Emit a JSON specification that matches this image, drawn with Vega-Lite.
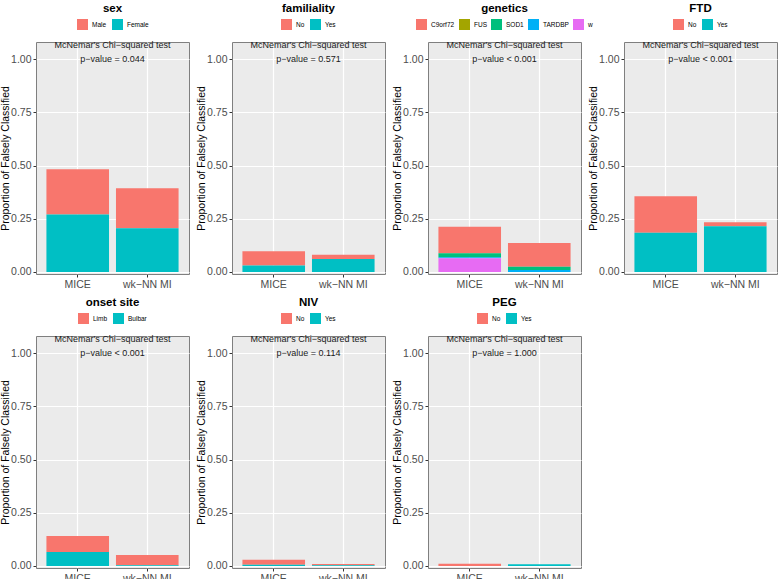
{
  "$schema": "https://vega.github.io/schema/vega-lite/v6.json",
  "padding": {"left": 0, "top": 2, "right": 0, "bottom": 0},
  "background": "white",
  "datasets": {
    "bars": [
      {"var": "sex", "method": "MICE", "cat": "Male", "lvl": 1, "prop": 0.212},
      {"var": "sex", "method": "MICE", "cat": "Female", "lvl": 2, "prop": 0.270},
      {"var": "sex", "method": "wk−NN MI", "cat": "Male", "lvl": 1, "prop": 0.187},
      {"var": "sex", "method": "wk−NN MI", "cat": "Female", "lvl": 2, "prop": 0.206},
      {"var": "familiality", "method": "MICE", "cat": "No", "lvl": 1, "prop": 0.067},
      {"var": "familiality", "method": "MICE", "cat": "Yes", "lvl": 2, "prop": 0.030},
      {"var": "familiality", "method": "wk−NN MI", "cat": "No", "lvl": 1, "prop": 0.020},
      {"var": "familiality", "method": "wk−NN MI", "cat": "Yes", "lvl": 2, "prop": 0.061},
      {"var": "genetics", "method": "MICE", "cat": "C9orf72", "lvl": 1, "prop": 0.124},
      {"var": "genetics", "method": "MICE", "cat": "SOD1", "lvl": 3, "prop": 0.019},
      {"var": "genetics", "method": "MICE", "cat": "TARDBP", "lvl": 4, "prop": 0.005},
      {"var": "genetics", "method": "MICE", "cat": "w", "lvl": 5, "prop": 0.064},
      {"var": "genetics", "method": "wk−NN MI", "cat": "C9orf72", "lvl": 1, "prop": 0.111},
      {"var": "genetics", "method": "wk−NN MI", "cat": "SOD1", "lvl": 3, "prop": 0.016},
      {"var": "genetics", "method": "wk−NN MI", "cat": "TARDBP", "lvl": 4, "prop": 0.009},
      {"var": "FTD", "method": "MICE", "cat": "No", "lvl": 1, "prop": 0.172},
      {"var": "FTD", "method": "MICE", "cat": "Yes", "lvl": 2, "prop": 0.184},
      {"var": "FTD", "method": "wk−NN MI", "cat": "No", "lvl": 1, "prop": 0.019},
      {"var": "FTD", "method": "wk−NN MI", "cat": "Yes", "lvl": 2, "prop": 0.215},
      {"var": "onset site", "method": "MICE", "cat": "Limb", "lvl": 1, "prop": 0.075},
      {"var": "onset site", "method": "MICE", "cat": "Bulbar", "lvl": 2, "prop": 0.066},
      {"var": "onset site", "method": "wk−NN MI", "cat": "Limb", "lvl": 1, "prop": 0.048},
      {"var": "onset site", "method": "wk−NN MI", "cat": "Bulbar", "lvl": 2, "prop": 0.004},
      {"var": "NIV", "method": "MICE", "cat": "No", "lvl": 1, "prop": 0.023},
      {"var": "NIV", "method": "MICE", "cat": "Yes", "lvl": 2, "prop": 0.006},
      {"var": "NIV", "method": "wk−NN MI", "cat": "No", "lvl": 1, "prop": 0.005},
      {"var": "NIV", "method": "wk−NN MI", "cat": "Yes", "lvl": 2, "prop": 0.004},
      {"var": "PEG", "method": "MICE", "cat": "No", "lvl": 1, "prop": 0.011},
      {"var": "PEG", "method": "wk−NN MI", "cat": "Yes", "lvl": 2, "prop": 0.008}
    ],
    "notes": [
      {"var": "sex", "test": "McNemar's Chi−squared test", "p": "p−value = 0.044"},
      {"var": "familiality", "test": "McNemar's Chi−squared test", "p": "p−value = 0.571"},
      {"var": "genetics", "test": "McNemar's Chi−squared test", "p": "p−value < 0.001"},
      {"var": "FTD", "test": "McNemar's Chi−squared test", "p": "p−value < 0.001"},
      {"var": "onset site", "test": "McNemar's Chi−squared test", "p": "p−value < 0.001"},
      {"var": "NIV", "test": "McNemar's Chi−squared test", "p": "p−value = 0.114"},
      {"var": "PEG", "test": "McNemar's Chi−squared test", "p": "p−value = 1.000"}
    ]
  },
  "columns": 4,
  "bounds": "flush",
  "spacing": {"row": 62, "column": 43},
  "resolve": {"scale": {"color": "independent", "y": "independent", "x": "independent"}, "legend": {"color": "independent"}},
  "concat": [
    {
      "title": "sex", "width": 153, "height": 232,
      "layer": [
        {"data": {"name": "bars"}, "transform": [{"filter": "datum.var === 'sex'"}], "mark": {"type": "bar"},
         "encoding": {
           "x": {"field": "method", "type": "nominal", "title": null, "scale": {"domain": ["MICE", "wk−NN MI"], "paddingInner": 0.1, "paddingOuter": 0.15}},
           "y": {"field": "prop", "type": "quantitative", "stack": "zero", "title": "Proportion of Falsely Classified", "scale": {"domain": [-0.0094, 1.08], "nice": false, "zero": false},
                 "axis": {"values": [0, 0.125, 0.25, 0.375, 0.5, 0.625, 0.75, 0.875, 1], "labelExpr": "datum.value * 4 % 1 === 0 ? format(datum.value, '.2f') : ''", "gridWidth": {"condition": {"test": "datum.value * 4 % 1 === 0", "value": 1.2}, "value": 0.6}, "tickOpacity": {"condition": {"test": "datum.value * 4 % 1 === 0", "value": 1}, "value": 0}}},
           "color": {"field": "cat", "type": "nominal", "scale": {"domain": ["Male", "Female"], "range": ["#F8766D", "#00BFC4"]}, "legend": {"title": null}},
           "order": {"field": "lvl", "type": "quantitative", "sort": "descending"}
         }},
        {"data": {"name": "notes"}, "transform": [{"filter": "datum.var === 'sex'"}], "mark": {"type": "text"}, "encoding": {"y": {"datum": 1.066}, "text": {"field": "test"}}},
        {"data": {"name": "notes"}, "transform": [{"filter": "datum.var === 'sex'"}], "mark": {"type": "text"}, "encoding": {"y": {"datum": 1.0}, "text": {"field": "p"}}}
      ]
    },
    {
      "title": "familiality", "width": 153, "height": 232,
      "layer": [
        {"data": {"name": "bars"}, "transform": [{"filter": "datum.var === 'familiality'"}], "mark": {"type": "bar"},
         "encoding": {
           "x": {"field": "method", "type": "nominal", "title": null, "scale": {"domain": ["MICE", "wk−NN MI"], "paddingInner": 0.1, "paddingOuter": 0.15}},
           "y": {"field": "prop", "type": "quantitative", "stack": "zero", "title": "Proportion of Falsely Classified", "scale": {"domain": [-0.0094, 1.08], "nice": false, "zero": false},
                 "axis": {"values": [0, 0.125, 0.25, 0.375, 0.5, 0.625, 0.75, 0.875, 1], "labelExpr": "datum.value * 4 % 1 === 0 ? format(datum.value, '.2f') : ''", "gridWidth": {"condition": {"test": "datum.value * 4 % 1 === 0", "value": 1.2}, "value": 0.6}, "tickOpacity": {"condition": {"test": "datum.value * 4 % 1 === 0", "value": 1}, "value": 0}}},
           "color": {"field": "cat", "type": "nominal", "scale": {"domain": ["No", "Yes"], "range": ["#F8766D", "#00BFC4"]}, "legend": {"title": null}},
           "order": {"field": "lvl", "type": "quantitative", "sort": "descending"}
         }},
        {"data": {"name": "notes"}, "transform": [{"filter": "datum.var === 'familiality'"}], "mark": {"type": "text"}, "encoding": {"y": {"datum": 1.066}, "text": {"field": "test"}}},
        {"data": {"name": "notes"}, "transform": [{"filter": "datum.var === 'familiality'"}], "mark": {"type": "text"}, "encoding": {"y": {"datum": 1.0}, "text": {"field": "p"}}}
      ]
    },
    {
      "title": "genetics", "width": 153, "height": 232,
      "layer": [
        {"data": {"name": "bars"}, "transform": [{"filter": "datum.var === 'genetics'"}], "mark": {"type": "bar"},
         "encoding": {
           "x": {"field": "method", "type": "nominal", "title": null, "scale": {"domain": ["MICE", "wk−NN MI"], "paddingInner": 0.1, "paddingOuter": 0.15}},
           "y": {"field": "prop", "type": "quantitative", "stack": "zero", "title": "Proportion of Falsely Classified", "scale": {"domain": [-0.0094, 1.08], "nice": false, "zero": false},
                 "axis": {"values": [0, 0.125, 0.25, 0.375, 0.5, 0.625, 0.75, 0.875, 1], "labelExpr": "datum.value * 4 % 1 === 0 ? format(datum.value, '.2f') : ''", "gridWidth": {"condition": {"test": "datum.value * 4 % 1 === 0", "value": 1.2}, "value": 0.6}, "tickOpacity": {"condition": {"test": "datum.value * 4 % 1 === 0", "value": 1}, "value": 0}}},
           "color": {"field": "cat", "type": "nominal", "scale": {"domain": ["C9orf72", "FUS", "SOD1", "TARDBP", "w"], "range": ["#F8766D", "#A3A500", "#00BF7D", "#00B0F6", "#E76BF3"]}, "legend": {"title": null, "columnPadding": 4}},
           "order": {"field": "lvl", "type": "quantitative", "sort": "descending"}
         }},
        {"data": {"name": "notes"}, "transform": [{"filter": "datum.var === 'genetics'"}], "mark": {"type": "text"}, "encoding": {"y": {"datum": 1.066}, "text": {"field": "test"}}},
        {"data": {"name": "notes"}, "transform": [{"filter": "datum.var === 'genetics'"}], "mark": {"type": "text"}, "encoding": {"y": {"datum": 1.0}, "text": {"field": "p"}}}
      ]
    },
    {
      "title": "FTD", "width": 153, "height": 232,
      "layer": [
        {"data": {"name": "bars"}, "transform": [{"filter": "datum.var === 'FTD'"}], "mark": {"type": "bar"},
         "encoding": {
           "x": {"field": "method", "type": "nominal", "title": null, "scale": {"domain": ["MICE", "wk−NN MI"], "paddingInner": 0.1, "paddingOuter": 0.15}},
           "y": {"field": "prop", "type": "quantitative", "stack": "zero", "title": "Proportion of Falsely Classified", "scale": {"domain": [-0.0094, 1.08], "nice": false, "zero": false},
                 "axis": {"values": [0, 0.125, 0.25, 0.375, 0.5, 0.625, 0.75, 0.875, 1], "labelExpr": "datum.value * 4 % 1 === 0 ? format(datum.value, '.2f') : ''", "gridWidth": {"condition": {"test": "datum.value * 4 % 1 === 0", "value": 1.2}, "value": 0.6}, "tickOpacity": {"condition": {"test": "datum.value * 4 % 1 === 0", "value": 1}, "value": 0}}},
           "color": {"field": "cat", "type": "nominal", "scale": {"domain": ["No", "Yes"], "range": ["#F8766D", "#00BFC4"]}, "legend": {"title": null}},
           "order": {"field": "lvl", "type": "quantitative", "sort": "descending"}
         }},
        {"data": {"name": "notes"}, "transform": [{"filter": "datum.var === 'FTD'"}], "mark": {"type": "text"}, "encoding": {"y": {"datum": 1.066}, "text": {"field": "test"}}},
        {"data": {"name": "notes"}, "transform": [{"filter": "datum.var === 'FTD'"}], "mark": {"type": "text"}, "encoding": {"y": {"datum": 1.0}, "text": {"field": "p"}}}
      ]
    },
    {
      "title": "onset site", "width": 153, "height": 232,
      "layer": [
        {"data": {"name": "bars"}, "transform": [{"filter": "datum.var === 'onset site'"}], "mark": {"type": "bar"},
         "encoding": {
           "x": {"field": "method", "type": "nominal", "title": null, "scale": {"domain": ["MICE", "wk−NN MI"], "paddingInner": 0.1, "paddingOuter": 0.15}},
           "y": {"field": "prop", "type": "quantitative", "stack": "zero", "title": "Proportion of Falsely Classified", "scale": {"domain": [-0.0094, 1.08], "nice": false, "zero": false},
                 "axis": {"values": [0, 0.125, 0.25, 0.375, 0.5, 0.625, 0.75, 0.875, 1], "labelExpr": "datum.value * 4 % 1 === 0 ? format(datum.value, '.2f') : ''", "gridWidth": {"condition": {"test": "datum.value * 4 % 1 === 0", "value": 1.2}, "value": 0.6}, "tickOpacity": {"condition": {"test": "datum.value * 4 % 1 === 0", "value": 1}, "value": 0}}},
           "color": {"field": "cat", "type": "nominal", "scale": {"domain": ["Limb", "Bulbar"], "range": ["#F8766D", "#00BFC4"]}, "legend": {"title": null}},
           "order": {"field": "lvl", "type": "quantitative", "sort": "descending"}
         }},
        {"data": {"name": "notes"}, "transform": [{"filter": "datum.var === 'onset site'"}], "mark": {"type": "text"}, "encoding": {"y": {"datum": 1.066}, "text": {"field": "test"}}},
        {"data": {"name": "notes"}, "transform": [{"filter": "datum.var === 'onset site'"}], "mark": {"type": "text"}, "encoding": {"y": {"datum": 1.0}, "text": {"field": "p"}}}
      ]
    },
    {
      "title": "NIV", "width": 153, "height": 232,
      "layer": [
        {"data": {"name": "bars"}, "transform": [{"filter": "datum.var === 'NIV'"}], "mark": {"type": "bar"},
         "encoding": {
           "x": {"field": "method", "type": "nominal", "title": null, "scale": {"domain": ["MICE", "wk−NN MI"], "paddingInner": 0.1, "paddingOuter": 0.15}},
           "y": {"field": "prop", "type": "quantitative", "stack": "zero", "title": "Proportion of Falsely Classified", "scale": {"domain": [-0.0094, 1.08], "nice": false, "zero": false},
                 "axis": {"values": [0, 0.125, 0.25, 0.375, 0.5, 0.625, 0.75, 0.875, 1], "labelExpr": "datum.value * 4 % 1 === 0 ? format(datum.value, '.2f') : ''", "gridWidth": {"condition": {"test": "datum.value * 4 % 1 === 0", "value": 1.2}, "value": 0.6}, "tickOpacity": {"condition": {"test": "datum.value * 4 % 1 === 0", "value": 1}, "value": 0}}},
           "color": {"field": "cat", "type": "nominal", "scale": {"domain": ["No", "Yes"], "range": ["#F8766D", "#00BFC4"]}, "legend": {"title": null}},
           "order": {"field": "lvl", "type": "quantitative", "sort": "descending"}
         }},
        {"data": {"name": "notes"}, "transform": [{"filter": "datum.var === 'NIV'"}], "mark": {"type": "text"}, "encoding": {"y": {"datum": 1.066}, "text": {"field": "test"}}},
        {"data": {"name": "notes"}, "transform": [{"filter": "datum.var === 'NIV'"}], "mark": {"type": "text"}, "encoding": {"y": {"datum": 1.0}, "text": {"field": "p"}}}
      ]
    },
    {
      "title": "PEG", "width": 153, "height": 232,
      "layer": [
        {"data": {"name": "bars"}, "transform": [{"filter": "datum.var === 'PEG'"}], "mark": {"type": "bar"},
         "encoding": {
           "x": {"field": "method", "type": "nominal", "title": null, "scale": {"domain": ["MICE", "wk−NN MI"], "paddingInner": 0.1, "paddingOuter": 0.15}},
           "y": {"field": "prop", "type": "quantitative", "stack": "zero", "title": "Proportion of Falsely Classified", "scale": {"domain": [-0.0094, 1.08], "nice": false, "zero": false},
                 "axis": {"values": [0, 0.125, 0.25, 0.375, 0.5, 0.625, 0.75, 0.875, 1], "labelExpr": "datum.value * 4 % 1 === 0 ? format(datum.value, '.2f') : ''", "gridWidth": {"condition": {"test": "datum.value * 4 % 1 === 0", "value": 1.2}, "value": 0.6}, "tickOpacity": {"condition": {"test": "datum.value * 4 % 1 === 0", "value": 1}, "value": 0}}},
           "color": {"field": "cat", "type": "nominal", "scale": {"domain": ["No", "Yes"], "range": ["#F8766D", "#00BFC4"]}, "legend": {"title": null}},
           "order": {"field": "lvl", "type": "quantitative", "sort": "descending"}
         }},
        {"data": {"name": "notes"}, "transform": [{"filter": "datum.var === 'PEG'"}], "mark": {"type": "text"}, "encoding": {"y": {"datum": 1.066}, "text": {"field": "test"}}},
        {"data": {"name": "notes"}, "transform": [{"filter": "datum.var === 'PEG'"}], "mark": {"type": "text"}, "encoding": {"y": {"datum": 1.0}, "text": {"field": "p"}}}
      ]
    }
  ],
  "config": {
    "font": "Liberation Sans",
    "view": {"fill": "#EBEBEB", "stroke": "#7F7F7F", "strokeWidth": 1},
    "title": {"fontSize": 11.5, "fontWeight": "bold", "color": "black", "anchor": "middle", "frame": "group", "offset": 5},
    "text": {"fontSize": 9, "color": "#1A1A1A", "baseline": "middle", "align": "center"},
    "axis": {"domain": false, "gridColor": "white", "tickColor": "#333333", "tickSize": 3, "labelColor": "#4D4D4D", "labelFontSize": 10.5, "labelPadding": 2, "titleFontSize": 10.5, "titleFontWeight": "normal", "titleColor": "black"},
    "axisX": {"labelAngle": 0, "bandPosition": 0.5, "grid": true, "gridWidth": 1.2},
    "axisY": {"titlePadding": 0},
    "legend": {"orient": "top", "direction": "horizontal", "symbolType": "square", "symbolSize": 121, "symbolStrokeWidth": 0, "labelFontSize": 6.5, "labelColor": "black", "columnPadding": 5, "labelOffset": 4, "offset": 12, "padding": 0, "layout": {"top": {"anchor": "middle"}}}
  }
}
